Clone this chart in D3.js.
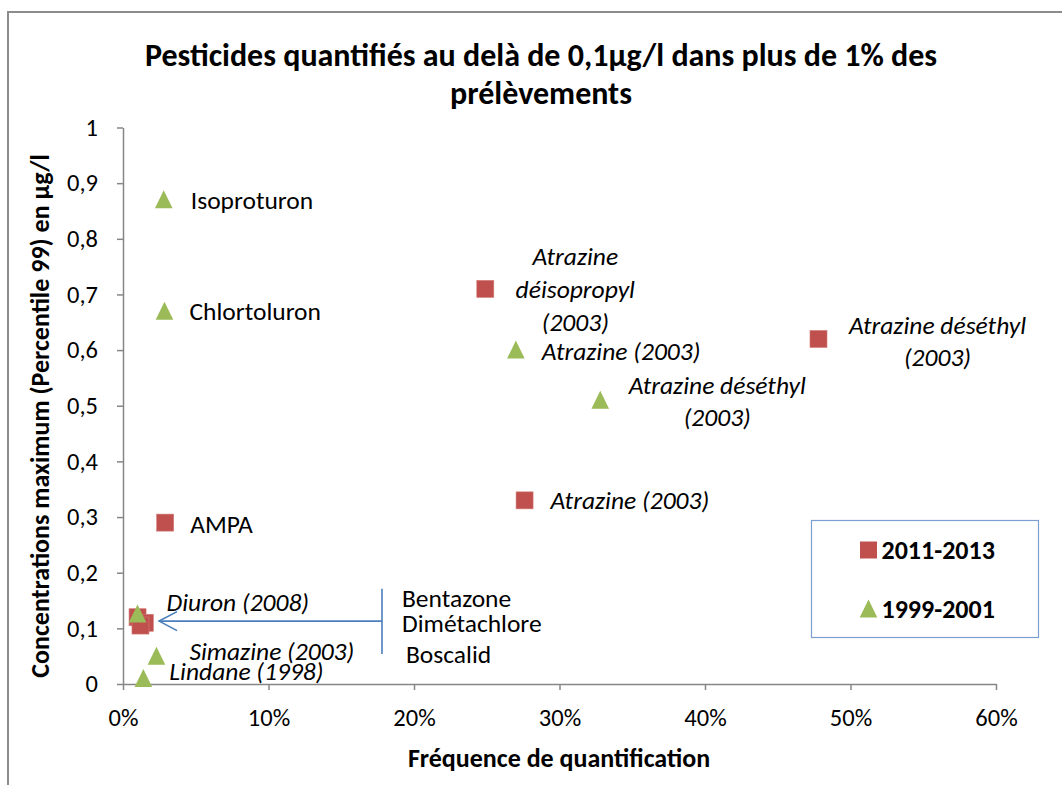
<!DOCTYPE html>
<html>
<head>
<meta charset="utf-8">
<script src="https://cdn.jsdelivr.net/npm/d3@7"></script>
<style>
  body { margin: 0; background: #fff; }
  svg text { font-family: Carlito, Lato, "Open Sans", sans-serif; fill: #000; }
</style>
</head>
<body>
<div id="chart"></div>
<script>
// ---------- data ----------
// 2011-2013 (red squares)
const recentFreq = [0.249, 0.478, 0.276, 0.029, 0.010, 0.015, 0.012];
const recentConc = [0.71, 0.62, 0.33, 0.29, 0.12, 0.11, 0.105];
const recentNames = [
  ["Atrazine", "déisopropyl", "(2003)"],
  ["Atrazine déséthyl", "(2003)"],
  ["Atrazine (2003)"],
  ["AMPA"],
  [], [], []
];
const recentItalic = [true, true, true, false, false, false, false];

// 1999-2001 (green triangles)
const oldFreq = [0.028, 0.0285, 0.270, 0.328, 0.010, 0.023, 0.014];
const oldConc = [0.87, 0.67, 0.60, 0.51, 0.126, 0.05, 0.01];
const oldNames = [
  ["Isoproturon"],
  ["Chlortoluron"],
  ["Atrazine (2003)"],
  ["Atrazine déséthyl", "(2003)"],
  ["Diuron (2008)"],
  ["Simazine (2003)"],
  ["Lindane (1998)"]
];
const oldItalic = [false, false, true, true, true, true, true];

// cluster note
const clusterNames = ["Bentazone", "Dimétachlore", "Boscalid"];

const seriesNames = ["2011-2013", "1999-2001"];
const xTicks = [0, 0.1, 0.2, 0.3, 0.4, 0.5, 0.6];
const yTicks = [0, 0.1, 0.2, 0.3, 0.4, 0.5, 0.6, 0.7, 0.8, 0.9, 1];

const title = ["Pesticides quantifiés au delà de 0,1µg/l dans plus de 1% des", "prélèvements"];
const xTitle = "Fréquence de quantification";
const yTitle = "Concentrations maximum (Percentile 99) en µg/l";

// ---------- layout ----------
const width = 1062, height = 785;
const plot = {left: 123, right: 996, top: 127.5, bottom: 684};
const red = "#c0504d", green = "#9bbb59", axisGrey = "#868686", blue = "#4a7ebb";
const labelSize = 25.5;

// label placement (pixel offsets from the marker), kept apart from the data
const recentLabelPos = [
  {dx: 90, dy: -33, anchor: "middle", lh: 33},
  {dx: 119, dy: -14, anchor: "middle", lh: 32},
  {dx: 26, dy: 0, anchor: "start"},
  {dx: 25, dy: 1, anchor: "start"},
  null, null, null
];
const oldLabelPos = [
  {dx: 27, dy: 0, anchor: "start"},
  {dx: 25, dy: 0, anchor: "start"},
  {dx: 26, dy: 1, anchor: "start"},
  {dx: 117, dy: -15, anchor: "middle", lh: 32},
  {dx: 29, dy: -12, anchor: "start"},
  {dx: 33, dy: -5, anchor: "start"},
  {dx: 26, dy: -7, anchor: "start"}
];

const svg = d3.select("#chart").append("svg")
  .attr("width", width)
  .attr("height", height);

svg.append("rect").attr("width", width).attr("height", height).attr("fill", "#fff");

// outer chart frame (bottom edge is outside the picture)
svg.append("path")
  .attr("d", `M8,${height + 5}V12H${width + 5}`)
  .attr("fill", "none")
  .attr("stroke", "#8c8c8c")
  .attr("stroke-width", 2);

const x = d3.scaleLinear().domain([0, 0.6]).range([plot.left, plot.right]);
const y = d3.scaleLinear().domain([0, 1]).range([plot.bottom, plot.top]);

// ---------- title ----------
svg.append("text")
  .attr("text-anchor", "middle")
  .attr("font-size", 32)
  .attr("font-weight", "bold")
  .selectAll("tspan")
  .data(title)
  .join("tspan")
    .attr("x", 541)
    .attr("y", (d, i) => 66 + i * 38)
    .text(d => d);

// ---------- axes ----------
const xAxis = g => g
  .attr("transform", `translate(0,${plot.bottom})`)
  .call(d3.axisBottom(x).tickValues(xTicks).tickFormat(d3.format(".0%")).tickSize(6).tickSizeOuter(0).tickPadding(19))
  .call(g => g.select(".domain").attr("stroke", axisGrey).attr("stroke-width", 1.5))
  .call(g => g.selectAll(".tick line").attr("stroke", axisGrey).attr("stroke-width", 1.5))
  .call(g => g.selectAll(".tick text").attr("font-size", 24.5).attr("fill", "#000")
    .attr("font-family", "Carlito, Lato, sans-serif"));

const yAxis = g => g
  .attr("transform", `translate(${plot.left},0)`)
  .call(d3.axisLeft(y).tickValues(yTicks).tickFormat(d => d3.format("~g")(d).replace(".", ",")).tickSize(6).tickSizeOuter(0).tickPadding(19))
  .call(g => g.select(".domain").attr("stroke", axisGrey).attr("stroke-width", 1.5))
  .call(g => g.selectAll(".tick line").attr("stroke", axisGrey).attr("stroke-width", 1.5))
  .call(g => g.selectAll(".tick text").attr("font-size", 24.5).attr("fill", "#000")
    .attr("font-family", "Carlito, Lato, sans-serif"));

svg.append("g").call(xAxis);
svg.append("g").call(yAxis);

svg.append("text")
  .attr("x", 559)
  .attr("y", 767)
  .attr("text-anchor", "middle")
  .attr("font-size", 26)
  .attr("font-weight", "bold")
  .text(xTitle);

svg.append("text")
  .attr("transform", `translate(49,416) rotate(-90)`)
  .attr("text-anchor", "middle")
  .attr("font-size", 26)
  .attr("font-weight", "bold")
  .text(yTitle);

// ---------- markers ----------
const recent = recentFreq.map((f, i) => ({f, c: recentConc[i], name: recentNames[i], italic: recentItalic[i], pos: recentLabelPos[i]}));
const old = oldFreq.map((f, i) => ({f, c: oldConc[i], name: oldNames[i], italic: oldItalic[i], pos: oldLabelPos[i]}));

const sq = 17;
const triPath = "M0,-9.5L8.8,8.5L-8.8,8.5Z";

svg.append("g").selectAll("rect")
  .data(recent)
  .join("rect")
    .attr("x", d => x(d.f) - sq / 2)
    .attr("y", d => y(d.c) - sq / 2)
    .attr("width", sq)
    .attr("height", sq)
    .attr("fill", red)
    .attr("stroke", "#d27a78")
    .attr("stroke-width", 0.6);

svg.append("g").selectAll("path")
  .data(old)
  .join("path")
    .attr("transform", d => `translate(${x(d.f)},${y(d.c)})`)
    .attr("d", triPath)
    .attr("fill", green);

// ---------- point labels ----------
const drawLabels = (data) => {
  svg.append("g").selectAll("text")
    .data(data.filter(d => d.pos))
    .join("text")
      .attr("font-size", labelSize)
      .attr("font-style", d => d.italic ? "italic" : "normal")
      .attr("text-anchor", d => d.pos.anchor)
      .attr("dominant-baseline", "central")
      .each(function(d) {
        d3.select(this).selectAll("tspan")
          .data(d.name)
          .join("tspan")
            .attr("x", x(d.f) + d.pos.dx)
            .attr("y", (t, i) => y(d.c) + d.pos.dy + i * (d.pos.lh || 0))
            .text(t => t);
      });
};
drawLabels(recent);
drawLabels(old);

// ---------- cluster annotation with arrow ----------
const arrowTail = {f: 0.178, c: 0.113};
const arrowTip = {f: 0.0248, c: 0.113};
const barTop = 0.171, barBottom = 0.054;

const ann = svg.append("g").attr("fill", "none").attr("stroke", blue).attr("stroke-width", 1.6);
ann.append("line")
  .attr("x1", x(arrowTail.f)).attr("y1", y(arrowTail.c))
  .attr("x2", x(arrowTip.f)).attr("y2", y(arrowTip.c));
ann.append("path")
  .attr("d", `M${x(arrowTip.f) + 18},${y(arrowTip.c) - 9.5}L${x(arrowTip.f)},${y(arrowTip.c)}L${x(arrowTip.f) + 18},${y(arrowTip.c) + 9.5}`);
ann.append("line")
  .attr("x1", x(arrowTail.f)).attr("y1", y(barTop))
  .attr("x2", x(arrowTail.f)).attr("y2", y(barBottom));

const clusterPos = [{dx: 20, dy: 598}, {dx: 20, dy: 623}, {dx: 24, dy: 654}];
svg.append("g").selectAll("text")
  .data(clusterNames)
  .join("text")
    .attr("x", (d, i) => x(arrowTail.f) + clusterPos[i].dx)
    .attr("y", (d, i) => clusterPos[i].dy)
    .attr("font-size", labelSize)
    .attr("dominant-baseline", "central")
    .text(d => d);

// ---------- legend ----------
const legend = svg.append("g");
legend.append("rect")
  .attr("x", 811.5).attr("y", 520.5)
  .attr("width", 227).attr("height", 117)
  .attr("fill", "#fff")
  .attr("stroke", "#7a9fd0")
  .attr("stroke-width", 1.2);

const legendRows = legend.selectAll("g.row")
  .data(seriesNames)
  .join("g")
    .attr("class", "row")
    .attr("transform", (d, i) => `translate(868.5,${550 + i * 59})`);

legendRows.filter((d, i) => i === 0).append("rect")
  .attr("x", -sq / 2).attr("y", -sq / 2)
  .attr("width", sq).attr("height", sq)
  .attr("fill", red);
legendRows.filter((d, i) => i === 1).append("path")
  .attr("d", triPath)
  .attr("fill", green);
legendRows.append("text")
  .attr("x", 13)
  .attr("dominant-baseline", "central")
  .attr("font-size", 26)
  .attr("font-weight", "bold")
  .text(d => d);
</script>
</body>
</html>
